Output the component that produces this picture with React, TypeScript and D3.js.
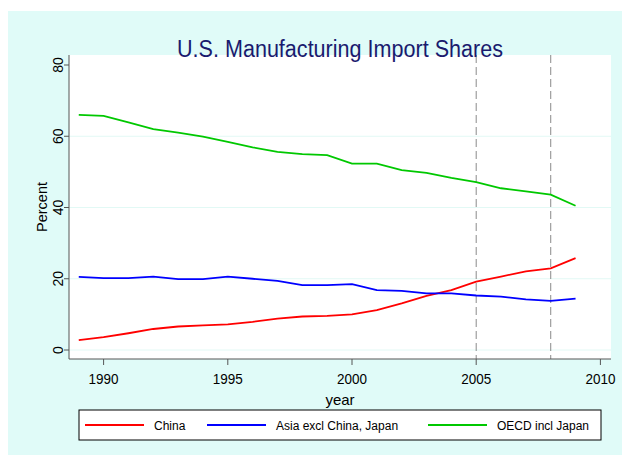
import React, { useRef, useEffect } from 'react';
import * as d3 from 'd3';

const years = [1989, 1990, 1991, 1992, 1993, 1994, 1995, 1996, 1997, 1998, 1999,
    2000, 2001, 2002, 2003, 2004, 2005, 2006, 2007, 2008, 2009];
const china = [2.8, 3.6, 4.7, 5.9, 6.6, 6.9, 7.2, 7.9, 8.8, 9.4, 9.6,
    10.0, 11.2, 13.1, 15.2, 16.8, 19.2, 20.6, 22.1, 22.9, 25.8];
const asia = [20.5, 20.2, 20.2, 20.6, 19.9, 19.9, 20.6, 20.0, 19.4, 18.2, 18.2,
    18.5, 16.8, 16.6, 15.9, 15.9, 15.3, 15.0, 14.2, 13.8, 14.4];
const oecd = [66.0, 65.7, 63.9, 62.0, 61.0, 59.9, 58.4, 56.9, 55.6, 55.0, 54.7,
    52.3, 52.3, 50.5, 49.7, 48.3, 47.1, 45.4, 44.5, 43.6, 40.5];
const seriesNames = ['China', 'Asia excl China, Japan', 'OECD incl Japan'];
const xTicks = [1990, 1995, 2000, 2005, 2010];
const yTicks = [0, 20, 40, 60, 80];
const markerYears = [2005, 2008];

const App = () => {
    const svgRef = useRef(null);

    useEffect(() => {
        const svg = d3.select(svgRef.current);
        svg.selectAll('*').remove();

        const font = 'Liberation Sans, Arial, Helvetica, sans-serif';
        const plot = { left: 69, right: 611, top: 55, bottom: 359 };

        const x = d3.scaleLinear().domain([1990, 2010]).range([103.6, 600.4]);
        const y = d3.scaleLinear().domain([0, 80]).range([350, 65]);
        const color = d3.scaleOrdinal().domain(seriesNames).range(['#ff0000', '#0000ff', '#00c800']);

        svg.append('rect').attr('x', 8).attr('y', 11).attr('width', 614).attr('height', 444)
            .attr('fill', '#e0fbf8');
        svg.append('rect').attr('x', plot.left).attr('y', plot.top)
            .attr('width', plot.right - plot.left).attr('height', plot.bottom - plot.top)
            .attr('fill', '#ffffff');

        // grid
        svg.append('g').selectAll('line').data(yTicks.slice(0, 4)).enter().append('line')
            .attr('x1', plot.left).attr('x2', plot.right)
            .attr('y1', d => y(d)).attr('y2', d => y(d))
            .attr('stroke', '#e2f9f5').attr('stroke-width', 1);

        // dashed year markers
        svg.append('g').selectAll('line').data(markerYears).enter().append('line')
            .attr('x1', d => x(d)).attr('x2', d => x(d))
            .attr('y1', plot.top).attr('y2', plot.bottom)
            .attr('stroke', '#8a8a8a').attr('stroke-width', 1)
            .attr('stroke-dasharray', '8,4');

        // series
        const line = d3.line().x(d => x(d[0])).y(d => y(d[1]));
        const series = [china, asia, oecd].map((vals, i) => ({
            name: seriesNames[i],
            pts: years.map((yr, j) => [yr, vals[j]])
        }));
        svg.append('g').selectAll('path').data(series).enter().append('path')
            .attr('d', d => line(d.pts))
            .attr('fill', 'none')
            .attr('stroke', d => color(d.name))
            .attr('stroke-width', 1.8);

        // axes
        const axisColor = '#555555';
        svg.append('line').attr('x1', plot.left).attr('x2', plot.left)
            .attr('y1', plot.top).attr('y2', plot.bottom).attr('stroke', axisColor);
        svg.append('line').attr('x1', plot.left).attr('x2', plot.right)
            .attr('y1', plot.bottom).attr('y2', plot.bottom).attr('stroke', axisColor);

        const yg = svg.append('g');
        yTicks.forEach(t => {
            yg.append('line').attr('x1', plot.left - 5).attr('x2', plot.left)
                .attr('y1', y(t)).attr('y2', y(t)).attr('stroke', axisColor);
            yg.append('text').attr('transform', `translate(63,${y(t)}) rotate(-90)`)
                .attr('text-anchor', 'middle').attr('font-family', font).attr('font-size', 14)
                .text(t);
        });

        const xg = svg.append('g');
        xTicks.forEach(t => {
            xg.append('line').attr('x1', x(t)).attr('x2', x(t))
                .attr('y1', plot.bottom).attr('y2', plot.bottom + 6).attr('stroke', axisColor);
            xg.append('text').attr('x', x(t)).attr('y', 384)
                .attr('text-anchor', 'middle').attr('font-family', font).attr('font-size', 14)
                .attr('textLength', 30).attr('lengthAdjust', 'spacingAndGlyphs')
                .text(t);
        });

        svg.append('text').attr('x', (plot.left + plot.right) / 2).attr('y', 405)
            .attr('text-anchor', 'middle').attr('font-family', font).attr('font-size', 15)
            .text('year');
        svg.append('text').attr('transform', 'translate(47,207) rotate(-90)')
            .attr('text-anchor', 'middle').attr('font-family', font).attr('font-size', 14.5)
            .text('Percent');

        svg.append('text').attr('x', 340).attr('y', 57)
            .attr('text-anchor', 'middle').attr('font-family', font).attr('font-size', 23)
            .attr('textLength', 326).attr('lengthAdjust', 'spacingAndGlyphs')
            .attr('fill', '#1a1a6e')
            .text('U.S. Manufacturing Import Shares');

        // legend
        const lg = svg.append('g');
        lg.append('rect').attr('x', 79).attr('y', 410).attr('width', 522).attr('height', 30)
            .attr('fill', '#ffffff').attr('stroke', '#000000').attr('stroke-width', 1);
        const legendX = [85, 207, 428];
        seriesNames.forEach((name, i) => {
            lg.append('line').attr('x1', legendX[i]).attr('x2', legendX[i] + 59)
                .attr('y1', 425).attr('y2', 425)
                .attr('stroke', color(name)).attr('stroke-width', 1.8);
            lg.append('text').attr('x', legendX[i] + 69).attr('y', 430)
                .attr('font-family', font).attr('font-size', 12)
                .text(name);
        });
    }, []);

    return (
        <svg ref={svgRef} width={622} height={455}
            style={{ position: 'absolute', left: 0, top: 0, background: '#ffffff' }}></svg>
    );
};

export default App;
